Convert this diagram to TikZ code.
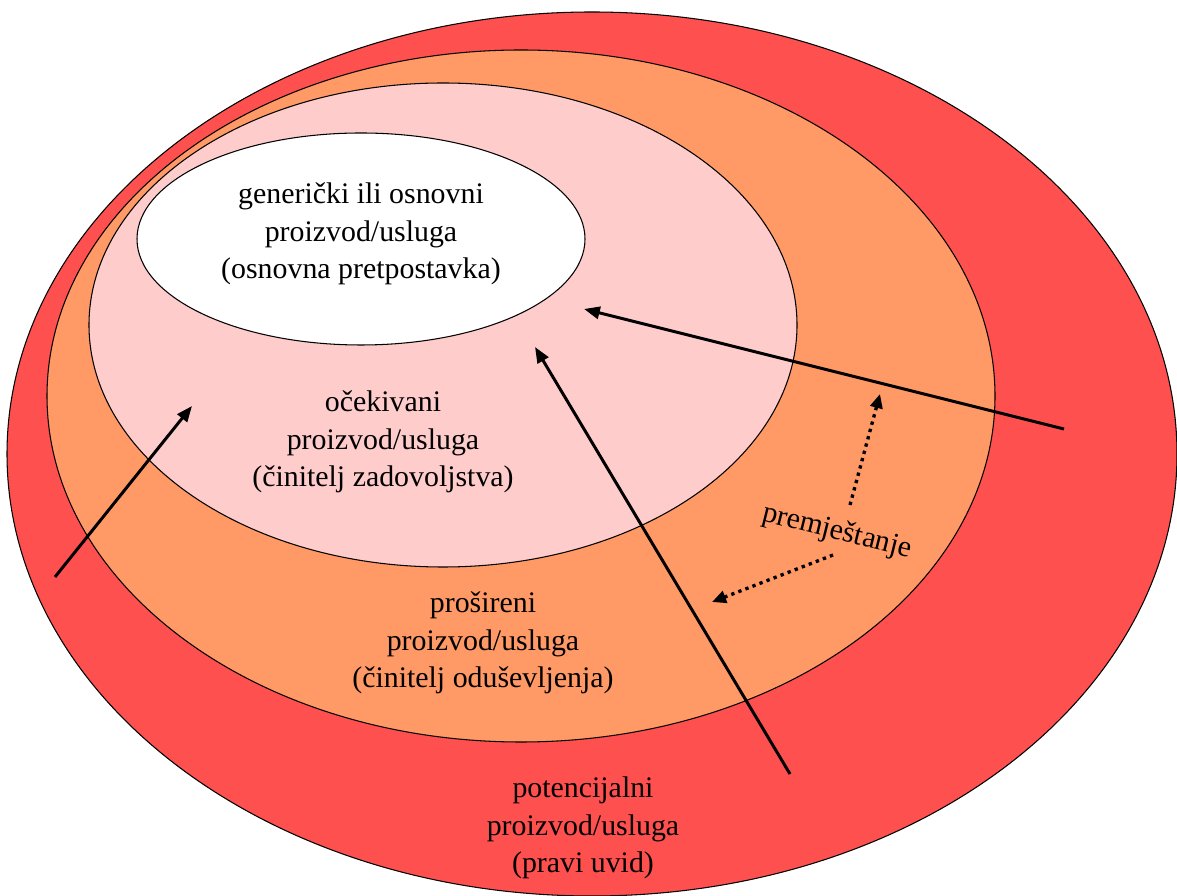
\documentclass[tikz,border=0pt]{standalone}
\usepackage{fontspec}
\setmainfont{Liberation Serif}
\usepackage{xcolor}
\usepackage{tikz}
\usetikzlibrary{arrows.meta, calc}
\definecolor{potentialred}{RGB}{255,80,80}
\definecolor{augmentedorange}{RGB}{255,153,102}
\definecolor{expectedpink}{RGB}{255,204,204}

\begin{document}
\begin{tikzpicture}[x=0.02cm, y=0.02cm,
    layertext/.style={align=center, font=\fontsize{17}{21.5}\selectfont},
    pusharrow/.style={-{Triangle[length=9pt,width=7pt]}, line width=1.7pt},
    shiftarrow/.style={-{Triangle[length=8pt,width=7pt]}, line width=1.9pt, dash pattern=on 1.9pt off 2.4pt}]
    \useasboundingbox (0,0) rectangle (1177,896);

    % Potential product
    \fill[potentialred] (592,442) ellipse (585 and 442);
    \draw[semithick] (592,442) ellipse (585 and 442);

    % Augmented product
    \fill[augmentedorange] (521,500) ellipse (474 and 346);
    \draw[semithick] (521,500) ellipse (474 and 346);

    % Expected product
    \fill[expectedpink] (443,571) ellipse (354 and 242);
    \draw[semithick] (443,571) ellipse (354 and 242);

    % Generic product
    \fill[white] (361,657) ellipse (224 and 106);
    \draw[semithick] (361,657) ellipse (224 and 106);

    % Texts
    \node[layertext] (generic) at (361,662) {generički ili osnovni\\proizvod/usluga\\(osnovna pretpostavka)};
    \node[layertext] (expected) at (383,454) {očekivani\\proizvod/usluga\\(činitelj zadovoljstva)};
    \node[layertext] (augmented) at (483,253) {prošireni\\proizvod/usluga\\(činitelj oduševljenja)};
    \node[layertext] (potential) at (583,68) {potencijalni\\proizvod/usluga\\(pravi uvid)};
    \node[layertext, rotate=-14, inner sep=0pt] (shift) at (837,364) {premještanje};

    % Arrows
    \coordinate (lefttail) at (55,319);
    \coordinate (lefttip) at (192,490);
    \coordinate (midtail) at (790,122);
    \coordinate (midtip) at (535,549);
    \coordinate (righttail) at (1064,467);
    \coordinate (righttip) at (584,587);
    \draw[pusharrow] (lefttail) -- (lefttip);
    \draw[pusharrow] (midtail) -- (midtip);
    \draw[pusharrow] (righttail) -- (righttip);

    % Shift arrows
    \coordinate (upstart) at (850,391);
    \coordinate (uptip) at (880,502);
    \coordinate (downstart) at (833,341);
    \coordinate (downtip) at (712,294);
    \draw[shiftarrow] (upstart) -- (uptip);
    \draw[shiftarrow] (downstart) -- (downtip);
\end{tikzpicture}
\end{document}
